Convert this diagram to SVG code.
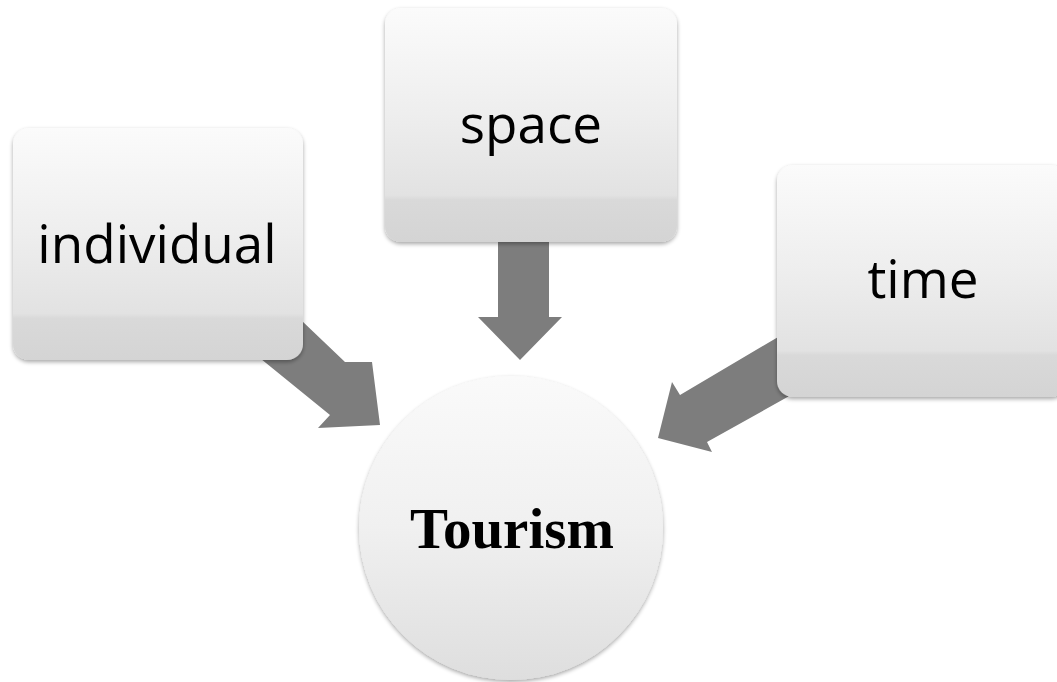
<svg xmlns="http://www.w3.org/2000/svg" width="1057" height="682" viewBox="0 0 1057 682">
<defs>
<linearGradient id="boxg" x1="0" y1="0" x2="0" y2="1">
<stop offset="0" stop-color="#fbfbfb"/>
<stop offset="0.45" stop-color="#eeeeee"/>
<stop offset="0.8" stop-color="#e2e2e2"/>
<stop offset="0.82" stop-color="#d9d9d9"/>
<stop offset="1" stop-color="#d4d4d4"/>
</linearGradient>
<linearGradient id="circg" x1="0" y1="0" x2="0" y2="1">
<stop offset="0" stop-color="#fafafa"/>
<stop offset="0.5" stop-color="#f0f0f0"/>
<stop offset="1" stop-color="#dedede"/>
</linearGradient>
<filter id="sh" x="-10%" y="-10%" width="120%" height="125%">
<feGaussianBlur in="SourceAlpha" stdDeviation="2"/>
<feOffset dx="0" dy="2" result="b"/>
<feComponentTransfer><feFuncA type="linear" slope="0.35"/></feComponentTransfer>
<feMerge><feMergeNode/><feMergeNode in="SourceGraphic"/></feMerge>
</filter>
</defs>
<style>
.box{fill:url(#boxg);filter:url(#sh)}
.arr{fill:#7d7d7d}
.lbl{font-family:"Open Sans","Noto Sans",sans-serif;font-size:53px;fill:#000;text-anchor:middle}
.main{font-family:"Liberation Serif","Times New Roman",serif;font-weight:bold;font-size:57px;fill:#000;text-anchor:middle}
</style>
<rect width="1057" height="682" fill="#ffffff"/>
<g id="connectors">
<polygon class="arr" points="280,300 345,362 372,362 380,425 318,428 330,415 250,350"/>
<polygon class="arr" points="498,230 549,230 549,317 562,317 520,360 478,317 498,317"/>
<polygon class="arr" points="790,330 680,395 672,382 658,438 712,452 707,442 800,390"/>
</g>
<g id="node-individual">
<rect class="box" x="13" y="128" width="290" height="232" rx="16"/>
<text class="lbl" x="157" y="263">individual</text>
</g>
<g id="node-space">
<rect class="box" x="385" y="8" width="292" height="234" rx="16"/>
<text class="lbl" x="531" y="143">space</text>
</g>
<g id="node-time">
<rect class="box" x="777" y="165" width="290" height="232" rx="16"/>
<text class="lbl" x="923" y="298">time</text>
</g>
<g id="node-tourism">
<circle cx="511" cy="528" r="152" fill="url(#circg)" filter="url(#sh)"/>
<text class="main" x="512" y="548">Tourism</text>
</g>
</svg>
